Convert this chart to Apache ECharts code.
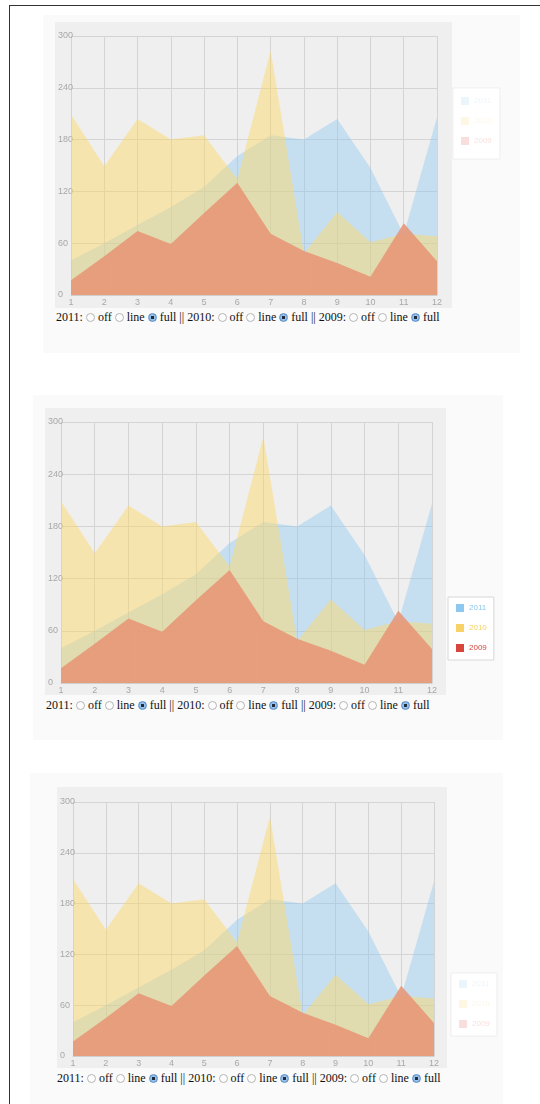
<!DOCTYPE html>
<html>
<head>
<meta charset="utf-8">
<script src="https://cdn.jsdelivr.net/npm/echarts@6/dist/echarts.min.js"></script>
<style>
  body { margin: 0; background: #fff; width: 540px; height: 1104px; position: relative; overflow: hidden; }
  .frameTop { position: absolute; left: 9px; top: 5px; width: 531px; height: 1px; background: #333; }
  .frameLeft { position: absolute; left: 9px; top: 5px; width: 1px; height: 1099px; background: #333; }
  .outer { position: absolute; background: #fafafa; }
  .box { position: absolute; background: #efefef; }
  .chart { position: absolute; }
  .row {
    position: absolute; font-family: "Liberation Serif", serif; font-size: 12px;
    line-height: 14px; color: #111; white-space: nowrap;
  }
  .row input {
    -webkit-appearance: none; appearance: none; width: 9px; height: 9px; margin: 0 3px 0 3px;
    border: 1px solid #b5b5b5; border-radius: 50%; background: #fdfdfd; vertical-align: -1px;
  }
  .row input:checked {
    border-color: #5b8fc9;
    background: radial-gradient(circle, #1d2b3a 0 1.4px, #9cc3ea 2px, #6fa2d8 100%);
  }
</style>
</head>
<body>
<div class="frameTop"></div>
<div class="frameLeft"></div>

<script>
// data
const months = ['1', '2', '3', '4', '5', '6', '7', '8', '9', '10', '11', '12'];
const years = ['2011', '2010', '2009'];
const s2011 = [40, 60, 81, 102, 125, 161, 185, 180, 204, 147, 70, 206];
const s2010 = [209, 149, 204, 180, 185, 134, 283, 48, 96, 61, 71, 68];
const s2009 = [17, 45, 74, 59, 95, 130, 71, 51, 37, 21, 83, 39];
const yMin = 0, yMax = 300, yStep = 60;

const seriesData = { '2011': s2011, '2010': s2010, '2009': s2009 };
const lineColors = { '2011': '#8ec8ee', '2010': '#f7d267', '2009': '#d8463b' };
const areaColors = {
  '2011': 'rgba(140,200,240,0.42)',
  '2010': 'rgba(255,214,95,0.45)',
  '2009': 'rgba(230,148,116,0.86)'
};

// panel layout: outer panel, gray box, plot area, legend corner, radio row
const panels = [
  { outer: [43, 15, 477, 338], box: [55, 22, 397, 286], plot: [69, 36, 368, 259], legend: [453, 88], pad: [9, 8, 14, 8], faded: true, row: [56, 310] },
  { outer: [33, 395, 470, 345], box: [45, 408, 401, 287], plot: [59, 422, 373, 262], legend: [448, 597], pad: [7, 7, 8, 8], faded: false, row: [46, 698] },
  { outer: [30, 773, 473, 331], box: [57, 787, 390, 281], plot: [70, 802, 364, 254], legend: [451, 973], pad: [7, 7, 8, 8], faded: true, row: [57, 1071] }
];

function addDiv(cls, r) {
  const d = document.createElement('div');
  d.className = cls;
  d.style.left = r[0] + 'px';
  d.style.top = r[1] + 'px';
  if (r[2] !== undefined) { d.style.width = r[2] + 'px'; d.style.height = r[3] + 'px'; }
  document.body.appendChild(d);
  return d;
}

function makeSeries(name, mode) {
  return {
    name: name,
    type: 'line',
    data: mode === 'off' ? [] : seriesData[name],
    symbol: 'none',
    silent: true,
    itemStyle: { color: lineColors[name] },
    lineStyle: { width: mode === 'line' ? 2 : 0, color: lineColors[name] },
    areaStyle: mode === 'full' ? { color: areaColors[name], opacity: 1 } : { opacity: 0 }
  };
}

function makeOption(p, modes) {
  const ox = p.box[0], oy = p.box[1];
  const a = p.faded ? 0.18 : 1;
  const gridLine = { lineStyle: { color: '#d4d4d4', width: 1 } };
  const label = { color: '#a8a8a8', fontSize: 9, fontFamily: 'Liberation Sans' };
  return {
    animation: false,
    backgroundColor: 'transparent',
    grid: { left: p.plot[0] - ox, top: p.plot[1] - oy, width: p.plot[2], height: p.plot[3] },
    legend: {
      orient: 'vertical',
      left: p.legend[0] - ox,
      top: p.legend[1] - oy,
      icon: 'rect',
      itemWidth: 8,
      itemHeight: 8,
      itemGap: 12,
      padding: p.pad,
      backgroundColor: '#fff',
      borderColor: p.faded ? 'rgba(210,210,210,0.3)' : '#d8d8d8',
      borderWidth: 1,
      selectedMode: false,
      itemStyle: { opacity: a },
      textStyle: { fontSize: 8, fontFamily: 'Liberation Sans' },
      data: years.map(y => ({
        name: y,
        textStyle: { color: echarts.color.modifyAlpha(lineColors[y], a) }
      }))
    },
    xAxis: {
      type: 'category',
      boundaryGap: false,
      data: months,
      axisTick: { show: false },
      axisLine: { lineStyle: { color: '#cfcfcf' } },
      axisLabel: Object.assign({ margin: 3 }, label),
      splitLine: Object.assign({ show: true }, gridLine)
    },
    yAxis: {
      type: 'value',
      min: yMin,
      max: yMax,
      interval: yStep,
      axisLine: { show: false },
      axisTick: { show: false },
      axisLabel: Object.assign({ align: 'left', margin: 13 }, label),
      splitLine: gridLine
    },
    series: years.map(y => makeSeries(y, modes[y]))
  };
}

panels.forEach((p, i) => {
  addDiv('outer', p.outer);
  addDiv('box', p.box);
  const dom = addDiv('chart', [p.box[0], p.box[1], 530 - p.box[0], p.box[3]]);
  const chart = echarts.init(dom);
  const modes = { '2011': 'full', '2010': 'full', '2009': 'full' };
  chart.setOption(makeOption(p, modes));

  // radio row
  const row = addDiv('row', p.row);
  years.forEach((y, k) => {
    if (k > 0) row.appendChild(document.createTextNode(' || '));
    row.appendChild(document.createTextNode(y + ':'));
    ['off', 'line', 'full'].forEach(m => {
      const inp = document.createElement('input');
      inp.type = 'radio';
      inp.name = 'p' + i + '_' + y;
      inp.checked = m === modes[y];
      inp.onchange = () => {
        modes[y] = m;
        chart.setOption(makeOption(p, modes), { replaceMerge: ['series'] });
      };
      row.appendChild(inp);
      row.appendChild(document.createTextNode(m));
    });
  });
});
</script>
</body>
</html>
